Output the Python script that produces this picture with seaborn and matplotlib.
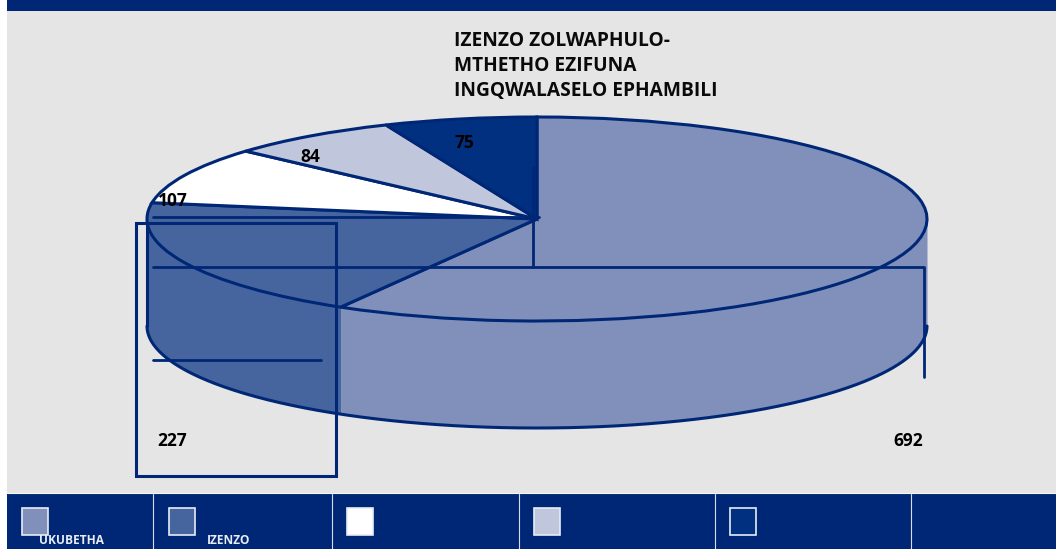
import seaborn as sns
import matplotlib.pyplot as plt
from matplotlib.patches import Rectangle
import numpy as np

categories = ["UKUBETHA", "IZENZO", "", "", ""]
values = [692, 227, 107, 84, 75]
colors = ["#8190BA", "#46659F", "#FFFFFF", "#C0C6DC", "#00307F"]
title_lines = ["IZENZO ZOLWAPHULO-", "MTHETHO EZIFUNA", "INGQWALASELO EPHAMBILI"]
label_pos = [(908, 441), (172, 441), (173, 201), (310, 157), (464, 143)]

NAVY = "#002776"
W, H = 1056, 549

sns.set_theme(style="white")
plt.rcParams["font.family"] = ["Open Sans", "DejaVu Sans"]
palette = sns.color_palette(colors)

fig = plt.figure(figsize=(W / 100, H / 100), dpi=100, facecolor="white")

# fondo y barras
bg = fig.add_axes([0, 0, 1, 1], zorder=0)
bg.set_xlim(0, W)
bg.set_ylim(H, 0)
bg.axis("off")
bg.add_patch(Rectangle((7, 11), W - 7, 482, color="#E5E5E5", lw=0))
bg.add_patch(Rectangle((7, 0), W - 7, 11, color=NAVY, lw=0))
bg.add_patch(Rectangle((7, 494), W - 7, 55, color=NAVY, lw=0))

# pastel 3D: elipse superior centrada en (537, 219), paredes 107 px abajo
rx, ry, depth = 390, 102, 107
d = depth / ry
ax = fig.add_axes([(537 - rx) / W, (H - 219 - ry - depth) / H, 2 * rx / W, (2 * ry + depth) / H], zorder=1)

fracs = np.array(values) / sum(values)
edges = np.concatenate([[0], np.cumsum(fracs)]) * 360

for i, c in enumerate(palette):
    a, b = max(edges[i], 90), min(edges[i + 1], 270)
    if a >= b:
        continue
    t = np.radians(np.linspace(a, b, 100))
    x, y = np.sin(t), np.cos(t)
    ax.fill_between(x, y, y - d, color=c, lw=0, zorder=1)

t = np.radians(np.linspace(90, 270, 300))
ax.plot(np.sin(t), np.cos(t) - d, color=NAVY, lw=2.2, zorder=2)
ax.plot([-1, -1], [0, -d], color=NAVY, lw=2.2, zorder=2)

ax.pie(values, colors=palette, startangle=90, counterclock=False, radius=1,
       wedgeprops=dict(edgecolor=NAVY, linewidth=2.2, zorder=3))
ax.set_aspect("auto")
ax.set_xlim(-1, 1)
ax.set_ylim(-1 - d, 1)
for p in ax.patches:
    p.set_clip_on(False)
for l in ax.lines:
    l.set_clip_on(False)

# lineas, textos y leyenda
ov = fig.add_axes([0, 0, 1, 1], zorder=2)
ov.set_xlim(0, W)
ov.set_ylim(H, 0)
ov.axis("off")

ov.plot([153, 539], [217, 217], color=NAVY, lw=2)
ov.plot([153, 924, 924], [267, 267, 377], color=NAVY, lw=2)
ov.plot([533, 533], [167, 267], color=NAVY, lw=2)
ov.plot([153, 321], [360, 360], color=NAVY, lw=2)
ov.add_patch(Rectangle((136, 223), 200, 253, fill=False, edgecolor=NAVY, lw=2.2))

for line, y in zip(title_lines, [41, 66, 91]):
    ov.text(454, y, line, fontsize=13.8, fontweight="bold", color="#0A0A0A", va="center", ha="left")

for v, (x, y) in zip(values, label_pos):
    ov.text(x, y, str(v), fontsize=12.5, fontweight="bold", color="black", va="center", ha="center")

for x in [153, 332, 519, 715, 911]:
    ov.plot([x, x], [494, H], color="#D8DCE8", lw=0.8)
ov.plot([7, W], [493, 493], color="#F4F4F4", lw=0.8)

swatch_x = [22, 169, 347, 534, 730]
for x, c in zip(swatch_x, palette):
    ov.add_patch(Rectangle((x, 508), 26, 27, facecolor=c, edgecolor="#E8ECF4", lw=1.2))

for name, x in zip(categories[:2], [72, 229]):
    ov.text(x, 540, name, fontsize=8.6, fontweight="bold", color="#E8ECF4", va="center", ha="center")

fig.savefig("out.png", dpi=100)
